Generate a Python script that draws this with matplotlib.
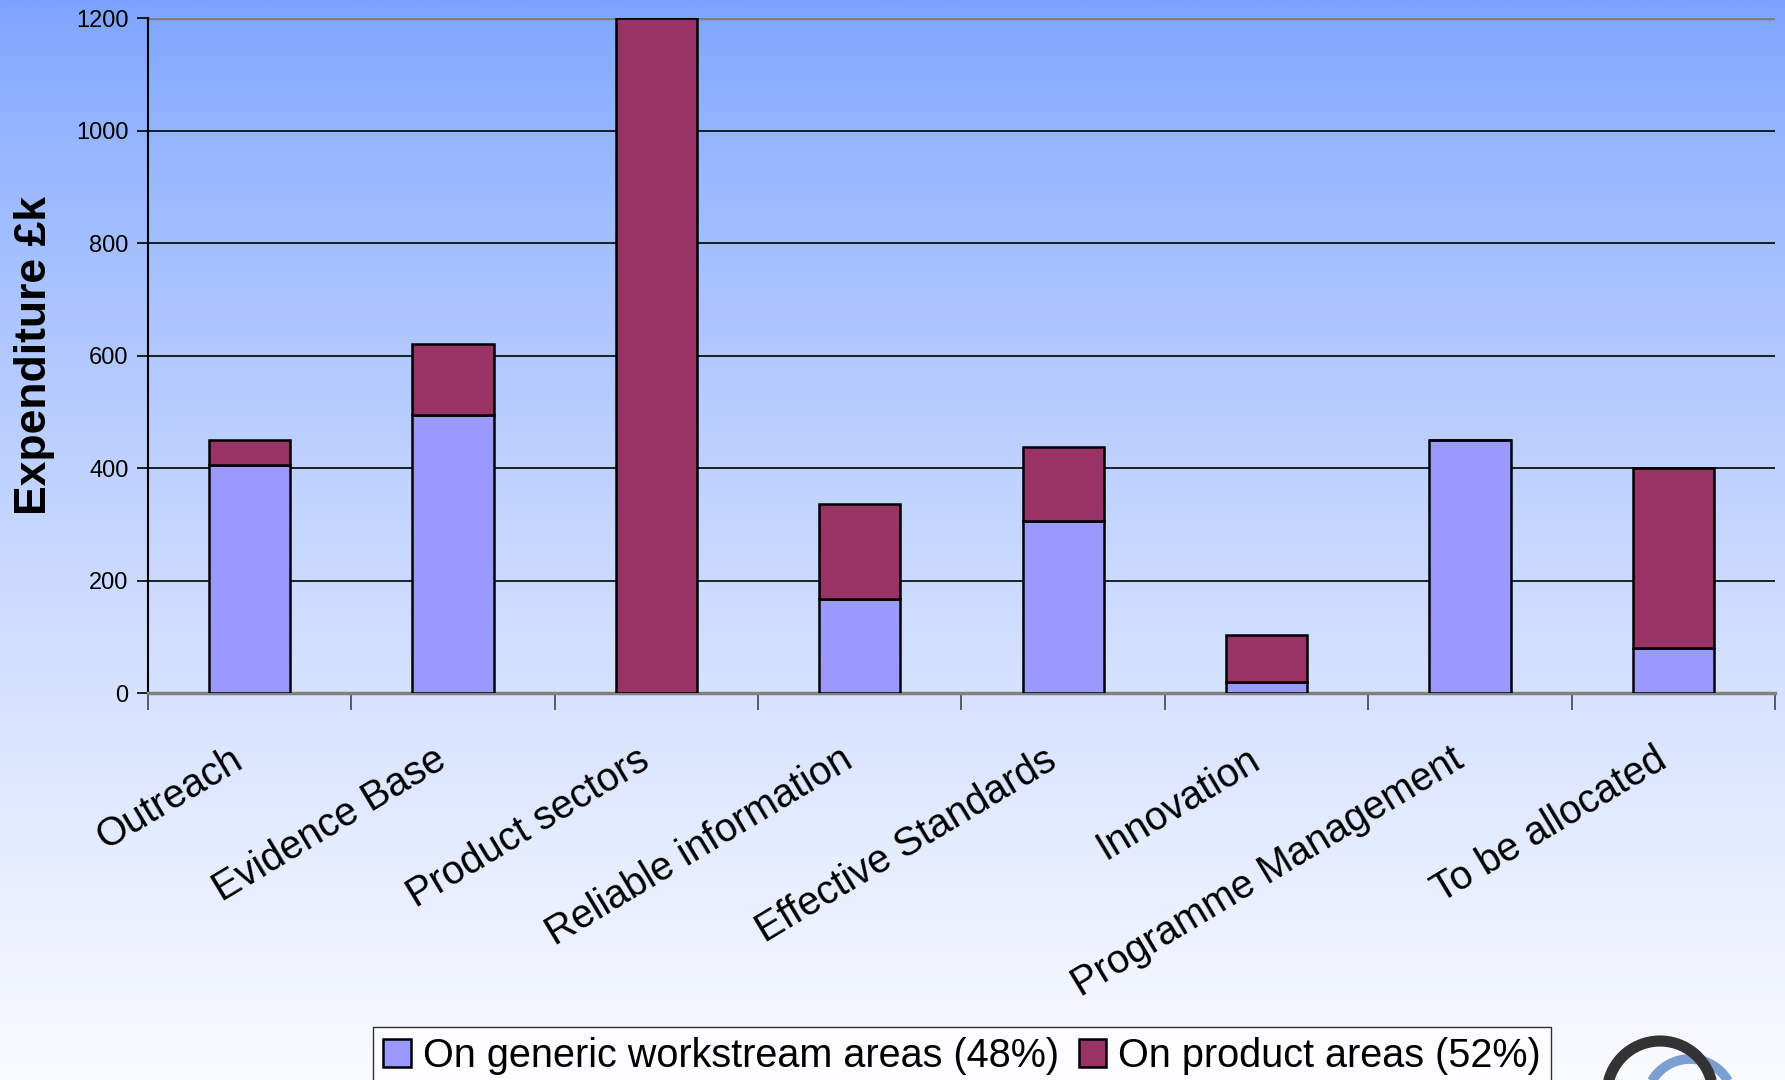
import matplotlib
matplotlib.use("Agg")
import matplotlib.pyplot as plt
import matplotlib.transforms as mtransforms
import numpy as np

plt.rcParams['font.family'] = ['Liberation Sans', 'DejaVu Sans']

categories = ["Outreach", "Evidence Base", "Product sectors", "Reliable information",
              "Effective Standards", "Innovation", "Programme Management", "To be allocated"]
generic = [405, 495, 0, 168, 306, 20, 450, 80]
product = [45, 125, 1200, 168, 131, 83, 0, 320]
yticks = [0, 200, 400, 600, 800, 1000, 1200]

W, H = 1785, 1080
fig = plt.figure(figsize=(W / 100, H / 100), dpi=100)

# background gradient over the whole figure
bg = fig.add_axes([0, 0, 1, 1], zorder=-10)
t = np.linspace(0, 1, 400) ** 0.75
top = np.array([122, 162, 255]) / 255
bot = np.array([250, 251, 255]) / 255
grad = top[None, :] * (1 - t[:, None]) + bot[None, :] * t[:, None]
bg.imshow(grad[:, None, :], aspect='auto', extent=[0, 1, 0, 1])
bg.set_axis_off()

ax = fig.add_axes([0.0829, 0.3583, 0.9115, 0.6247])
ax.set_facecolor('none')

x = np.arange(len(categories))
ax.bar(x, generic, width=0.4, color='#9999FF', edgecolor='black', linewidth=1.8,
       label='On generic workstream areas (48%)', zorder=3)
ax.bar(x, product, width=0.4, bottom=generic, color='#993366', edgecolor='black',
       linewidth=1.8, label='On product areas (52%)', zorder=3)

ax.set_xlim(-0.5, len(categories) - 0.5)
ax.set_ylim(0, 1200)
ax.set_yticks(yticks)
ax.yaxis.grid(True, color='black', linewidth=1.2, zorder=1)
ax.set_axisbelow(True)
ax.tick_params(axis='y', labelsize=17, length=8, width=1.2, direction='out', pad=6)

ax.set_xticks(x)
ax.set_xticklabels(categories, rotation=31, ha='right', rotation_mode='anchor', fontsize=28.5)
ax.set_xticks(np.arange(len(categories) + 1) - 0.5, minor=True)
ax.tick_params(axis='x', which='major', length=0, pad=34)
ax.tick_params(axis='x', which='minor', length=12, width=1.2, color='#444444')
shift = mtransforms.ScaledTranslation(-20 / 100, 0, fig.dpi_scale_trans)
for lab in ax.get_xticklabels():
    lab.set_transform(lab.get_transform() + shift)

for s in ['top', 'right']:
    ax.spines[s].set_visible(False)
ax.spines['left'].set_linewidth(1.5)
ax.spines['bottom'].set_color('#808080')
ax.spines['bottom'].set_linewidth(2.5)
ax.axhline(1200, color='#808080', linewidth=2.5, zorder=2)

ax.set_ylabel('Expenditure £k', fontsize=32, fontweight='bold')
ax.yaxis.set_label_coords(-0.057, 0.5)

fig.legend(loc='upper center', bbox_to_anchor=(0.539, 0.049), ncol=2, fontsize=28.5,
           frameon=True, fancybox=False, edgecolor='black', facecolor='white',
           handlelength=0.7, handleheight=0.7, handletextpad=0.3, columnspacing=0.5,
           borderpad=0.25, borderaxespad=0)

# logo fragment in the bottom right corner
lg = fig.add_axes([0, 0, 1, 1], zorder=5)
lg.set_xlim(0, W)
lg.set_ylim(H, 0)
lg.set_axis_off()
a = np.linspace(0.15, np.pi - 0.15, 200)
lg.plot(1690 + 44 * np.cos(a), 1103 - 44 * np.sin(a), color='#7A9FD2', linewidth=7,
        solid_capstyle='butt')
lg.plot(1660 + 53 * np.cos(a), 1094 - 53 * np.sin(a), color='#333333', linewidth=8,
        solid_capstyle='butt')

fig.savefig('out.png', dpi=100)
